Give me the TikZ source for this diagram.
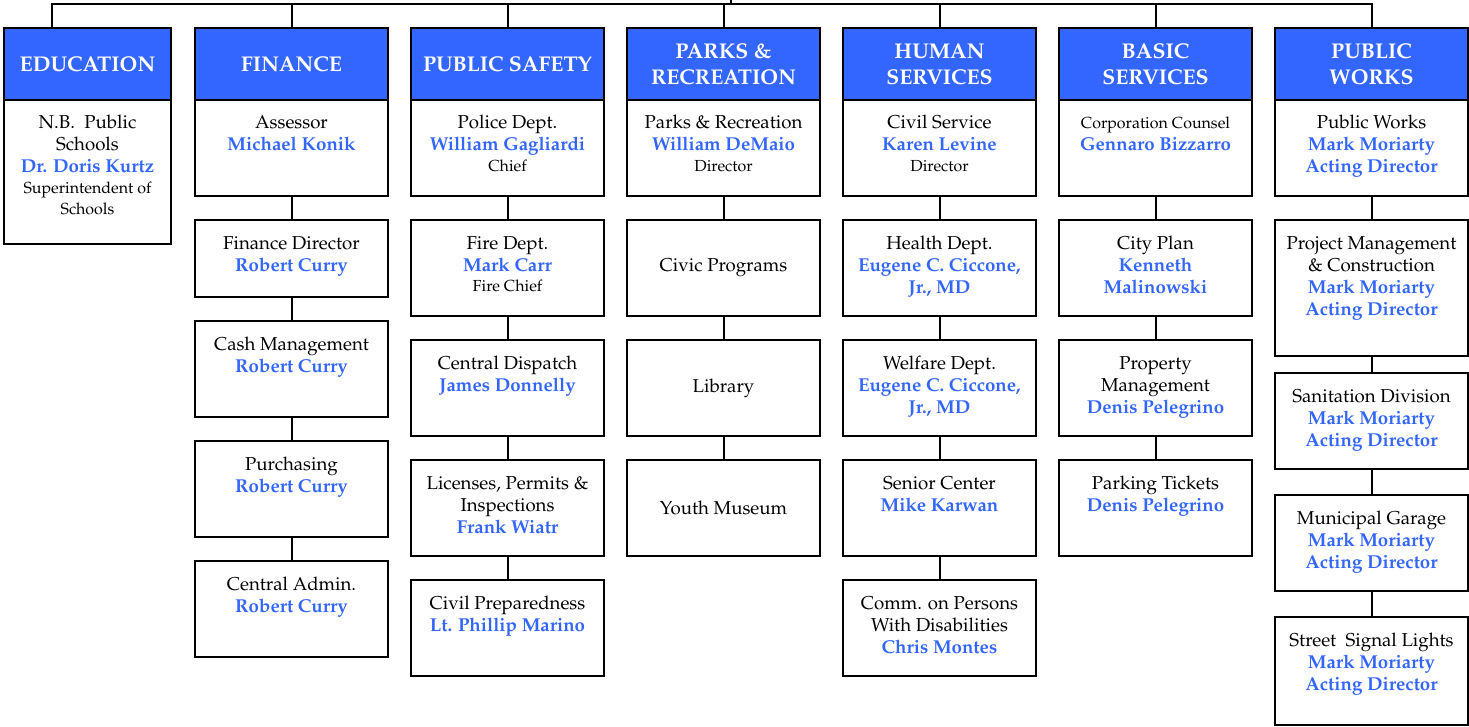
\documentclass[tikz,border=0pt]{standalone}
\usepackage[T1]{fontenc}
\usepackage{mathpazo}
\definecolor{hdblue}{HTML}{3366FF}
\definecolor{nmblue}{HTML}{3366FF}
\newcommand{\cell}[3]{\parbox[t][#2][t]{#1}{\centering\rule{0pt}{21.75pt}#3}}
\newcommand{\deptline}[1]{{\fontsize{14}{16.5}\selectfont #1\par}}
\newcommand{\headname}[1]{{\fontsize{14}{16.5}\selectfont\bfseries\textcolor{nmblue}{#1}\par}}
\newcommand{\smallline}[1]{{\fontsize{12}{15.5}\selectfont #1\par}}

\begin{document}
\begin{tikzpicture}[x=0.75pt, y=-0.75pt,
  hdr/.style={draw, line width=1.5pt, fill=hdblue, text=white, anchor=north,
    minimum width=144.75pt, minimum height=54pt, inner sep=0pt, outer sep=0pt,
    align=center, font=\fontsize{16}{19.5}\selectfont\bfseries},
  unit/.style={draw, line width=1.5pt, anchor=north, inner sep=0pt, outer sep=0pt},
  simple/.style={unit, minimum width=144.75pt, minimum height=72pt,
    font=\fontsize{14}{16.5}\selectfont},
  conn/.style={line width=1.5pt}]
\useasboundingbox (0,0) rectangle (1469,727);
% department heads
\node[hdr, minimum width=125.25pt] (edu) at (87.5,28) {EDUCATION};
\node[hdr] (fin) at (291.5,28) {FINANCE};
\node[hdr] (saf) at (507.5,28) {PUBLIC SAFETY};
\node[hdr] (prk) at (723.5,28) {PARKS \&\\RECREATION};
\node[hdr] (hum) at (939.5,28) {HUMAN\\SERVICES};
\node[hdr] (bas) at (1155.5,28) {BASIC\\SERVICES};
\node[hdr] (pw) at (1371.5,28) {PUBLIC\\WORKS};
% education
\node[unit] (edu1) at (87.5,100) {\cell{125.25pt}{108pt}{\deptline{N.B.\ \ Public}\deptline{Schools}\headname{Dr. Doris Kurtz}\smallline{Superintendent of}\smallline{Schools}}};
% finance
\node[unit] (fin1) at (291.5,100) {\cell{144.75pt}{72pt}{\deptline{Assessor}\headname{Michael Konik}}};
\node[unit] (fin2) at (291.5,220) {\cell{144.75pt}{57.75pt}{\deptline{Finance Director}\headname{Robert Curry}}};
\node[unit] (fin3) at (291.5,321) {\cell{144.75pt}{72pt}{\deptline{Cash Management}\headname{Robert Curry}}};
\node[unit] (fin4) at (291.5,441) {\cell{144.75pt}{72pt}{\deptline{Purchasing}\headname{Robert Curry}}};
\node[unit] (fin5) at (291.5,561) {\cell{144.75pt}{72pt}{\deptline{Central Admin.}\headname{Robert Curry}}};
% public safety
\node[unit] (saf1) at (507.5,100) {\cell{144.75pt}{72pt}{\deptline{Police Dept.}\headname{William Gagliardi}\smallline{Chief}}};
\node[unit] (saf2) at (507.5,220) {\cell{144.75pt}{72pt}{\deptline{Fire Dept.}\headname{Mark Carr}\smallline{Fire Chief}}};
\node[unit] (saf3) at (507.5,340) {\cell{144.75pt}{72pt}{\deptline{Central Dispatch}\headname{James Donnelly}}};
\node[unit] (saf4) at (507.5,460) {\cell{144.75pt}{72pt}{\deptline{Licenses, Permits \&}\deptline{Inspections}\headname{Frank Wiatr}}};
\node[unit] (saf5) at (507.5,580) {\cell{144.75pt}{72pt}{\deptline{Civil Preparedness}\headname{Lt. Phillip Marino}}};
% parks
\node[unit] (prk1) at (723.5,100) {\cell{144.75pt}{72pt}{\deptline{Parks \& Recreation}\headname{William DeMaio}\smallline{Director}}};
\node[simple] (prk2) at (723.5,220) {Civic Programs};
\node[simple] (prk3) at (723.5,340) {Library};
\node[simple] (prk4) at (723.5,460) {Youth Museum};
% human services
\node[unit] (hum1) at (939.5,100) {\cell{144.75pt}{72pt}{\deptline{Civil Service}\headname{Karen Levine}\smallline{Director}}};
\node[unit] (hum2) at (939.5,220) {\cell{144.75pt}{72pt}{\deptline{Health Dept.}\headname{Eugene C. Ciccone,}\headname{Jr., MD}}};
\node[unit] (hum3) at (939.5,340) {\cell{144.75pt}{72pt}{\deptline{Welfare Dept.}\headname{Eugene C. Ciccone,}\headname{Jr., MD}}};
\node[unit] (hum4) at (939.5,460) {\cell{144.75pt}{72pt}{\deptline{Senior Center}\headname{Mike Karwan}}};
\node[unit] (hum5) at (939.5,580) {\cell{144.75pt}{72pt}{\deptline{Comm. on Persons}\deptline{With Disabilities}\headname{Chris Montes}}};
% basic services
\node[unit] (bas1) at (1155.5,100) {\cell{144.75pt}{72pt}{\smallline{Corporation Counsel}\headname{Gennaro Bizzarro}}};
\node[unit] (bas2) at (1155.5,220) {\cell{144.75pt}{72pt}{\deptline{City Plan}\headname{Kenneth}\headname{Malinowski}}};
\node[unit] (bas3) at (1155.5,340) {\cell{144.75pt}{72pt}{\deptline{Property}\deptline{Management}\headname{Denis Pelegrino}}};
\node[unit] (bas4) at (1155.5,460) {\cell{144.75pt}{72pt}{\deptline{Parking Tickets}\headname{Denis Pelegrino}}};
% public works
\node[unit] (pw1) at (1371.5,100) {\cell{144.75pt}{72pt}{\deptline{Public Works}\headname{Mark Moriarty}\headname{Acting Director}}};
\node[unit] (pw2) at (1371.5,220) {\cell{144.75pt}{102pt}{\deptline{Project Management}\deptline{\& Construction}\headname{Mark Moriarty}\headname{Acting Director}}};
\node[unit] (pw3) at (1371.5,373) {\cell{144.75pt}{72pt}{\deptline{Sanitation Division}\headname{Mark Moriarty}\headname{Acting Director}}};
\node[unit] (pw4) at (1371.5,495) {\cell{144.75pt}{72pt}{\deptline{Municipal Garage}\headname{Mark Moriarty}\headname{Acting Director}}};
\node[unit] (pw5) at (1371.5,617) {\cell{144.75pt}{81pt}{\deptline{Street\ \ Signal Lights}\headname{Mark Moriarty}\headname{Acting Director}}};
% top bus
\coordinate (busL) at (52,4);
\coordinate (busR) at (1371.5,4);
\coordinate (mayor) at (731,-2);
\draw[conn] (busL |- edu.north) -- (busL) -- (busR) -- (pw.north);
\draw[conn] (mayor) -- (mayor |- busL);
\foreach \c in {fin,saf,prk,hum,bas}
 \draw[conn] (\c.north) -- (\c.north |- busL);
% column links
\foreach \a/\b in {fin1/fin2,fin2/fin3,fin3/fin4,fin4/fin5,
  saf1/saf2,saf2/saf3,saf3/saf4,saf4/saf5,
  prk1/prk2,prk2/prk3,prk3/prk4,
  hum1/hum2,hum2/hum3,hum3/hum4,hum4/hum5,
  bas1/bas2,bas2/bas3,bas3/bas4,
  pw1/pw2,pw2/pw3,pw3/pw4,pw4/pw5}
 \draw[conn] (\a.south) -- (\b.north);
\end{tikzpicture}
\end{document}
